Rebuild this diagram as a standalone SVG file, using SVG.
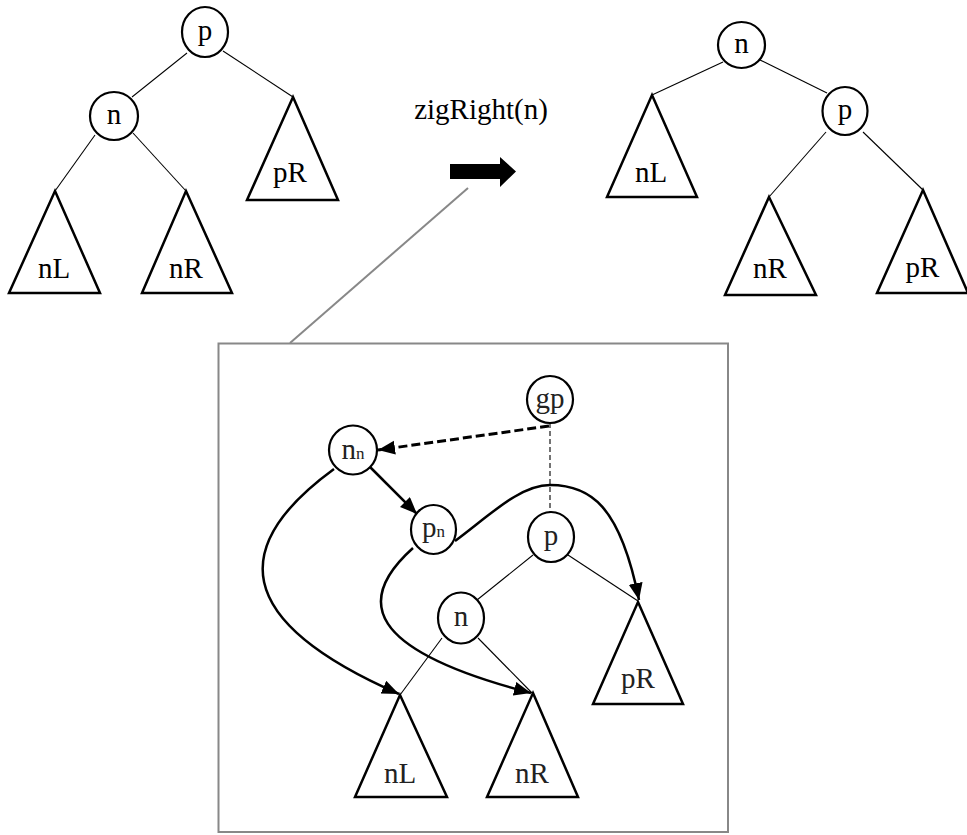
<svg xmlns="http://www.w3.org/2000/svg" width="967" height="835" viewBox="0 0 967 835">
<defs>
<style>
.nd{fill:#fff;stroke:#000;stroke-width:2.2}
.tr{fill:#fff;stroke:#000;stroke-width:2.5;stroke-linejoin:miter}
.ed{stroke:#000;stroke-width:1.1;fill:none}
.t{font-family:"Liberation Serif","Times New Roman","DejaVu Serif",serif;font-size:29px;fill:#000;text-anchor:middle}
.ti{font-family:"Liberation Serif","Times New Roman","DejaVu Serif",serif;font-size:29px;fill:#222;text-anchor:middle}
.sub{font-size:17px}
.cv{fill:none;stroke:#000;stroke-width:2.5}
</style>
<marker id="ah" markerUnits="userSpaceOnUse" markerWidth="19" markerHeight="16" refX="17" refY="7" orient="auto">
<path d="M0,0 L17,7 L0,14 z" fill="#000"/>
</marker>
</defs>
<rect width="967" height="835" fill="#fff"/>

<!-- connectors -->
<g id="connectors">
<!-- top-left tree edges -->
<line class="ed" x1="187" y1="53" x2="132" y2="97"/>
<line class="ed" x1="223" y1="51" x2="293" y2="97"/>
<line class="ed" x1="95" y1="135" x2="55" y2="191"/>
<line class="ed" x1="133" y1="133" x2="186" y2="191"/>
<!-- top-right tree edges -->
<line class="ed" x1="723" y1="62" x2="652" y2="95"/>
<line class="ed" x1="760" y1="60" x2="827" y2="93"/>
<line class="ed" x1="826" y1="132" x2="769" y2="197"/>
<line class="ed" x1="863" y1="132" x2="923" y2="190"/>
<!-- zoom pointer line -->
<line x1="468" y1="188" x2="290" y2="343" stroke="#888" stroke-width="2"/>
<!-- inset tree edges -->
<line class="ed" x1="533" y1="555" x2="477" y2="600"/>
<line class="ed" x1="568" y1="555" x2="638" y2="601"/>
<line class="ed" x1="442" y1="638" x2="400" y2="695"/>
<line class="ed" x1="478" y1="638" x2="532" y2="693"/>
<line x1="550" y1="423" x2="550" y2="513" stroke="#000" stroke-width="1.1" stroke-dasharray="5,3"/>
<!-- inset arrows -->
<line x1="549" y1="426" x2="378" y2="450" stroke="#000" stroke-width="3" stroke-dasharray="9,4" marker-end="url(#ah)"/>
<line class="cv" x1="370" y1="467" x2="417" y2="514" marker-end="url(#ah)"/>
<path class="cv" d="M334,469 C230,545 230,620 399,694" marker-end="url(#ah)"/>
<path class="cv" d="M413,548 C355,600 365,650 531,693" marker-end="url(#ah)"/>
<path class="cv" d="M455,541 C490,515 520,485 550,485 C590,485 620,505 639,600" marker-end="url(#ah)"/>
</g>

<!-- top-left tree -->
<g id="tl-p"><ellipse class="nd" cx="205" cy="32" rx="23" ry="25"/><text class="t" x="205" y="40">p</text></g>
<g id="tl-n"><ellipse class="nd" cx="114" cy="116" rx="24" ry="24"/><text class="t" x="114" y="124">n</text></g>
<g id="tl-pR"><polygon class="tr" points="293,97 338,200 247,200"/><text class="t" x="290" y="182">pR</text></g>
<g id="tl-nL"><polygon class="tr" points="55,191 100,293 9,293"/><text class="t" x="54" y="278">nL</text></g>
<g id="tl-nR"><polygon class="tr" points="186,191 232,293 142,293"/><text class="t" x="186" y="278">nR</text></g>

<!-- operation -->
<g id="op">
<text class="t" x="481" y="119">zigRight(n)</text>
<polygon points="450,164 500,164 500,157 516,171.5 500,187 500,179 450,179" fill="#000"/>
</g>

<!-- top-right tree -->
<g id="tr-n"><ellipse class="nd" cx="741.5" cy="45" rx="23.5" ry="23"/><text class="t" x="741.5" y="53">n</text></g>
<g id="tr-p"><ellipse class="nd" cx="845" cy="111" rx="22.5" ry="24"/><text class="t" x="845" y="119">p</text></g>
<g id="tr-nL"><polygon class="tr" points="652,95 697,197 607,197"/><text class="t" x="651" y="182">nL</text></g>
<g id="tr-nR"><polygon class="tr" points="769,197 816,295 725,295"/><text class="t" x="770" y="278">nR</text></g>
<g id="tr-pR"><polygon class="tr" points="923,190 968,293 877,293"/><text class="t" x="922.5" y="277">pR</text></g>

<!-- inset box -->
<g id="inset">
<rect x="218.5" y="343.5" width="509.5" height="488.5" fill="none" stroke="#888" stroke-width="2"/>
</g>
<g id="in-gp"><ellipse class="nd" cx="550" cy="399.5" rx="23" ry="23.5"/><text class="ti" x="550" y="408">gp</text></g>
<g id="in-nn"><ellipse class="nd" cx="353" cy="450" rx="24" ry="24.5"/><text class="ti" x="353" y="459">n<tspan class="sub">n</tspan></text></g>
<g id="in-pn"><ellipse class="nd" cx="433.5" cy="529.5" rx="22.5" ry="24.5"/><text class="ti" x="433.5" y="537">p<tspan class="sub">n</tspan></text></g>
<g id="in-p"><ellipse class="nd" cx="551" cy="537" rx="23" ry="25"/><text class="ti" x="551" y="545">p</text></g>
<g id="in-n"><ellipse class="nd" cx="461" cy="618" rx="23" ry="25.5"/><text class="ti" x="461" y="626">n</text></g>
<g id="in-nL"><polygon class="tr" points="400,695 447,797 355,797"/><text class="ti" x="400" y="783">nL</text></g>
<g id="in-nR"><polygon class="tr" points="533,693 578,797 487,797"/><text class="ti" x="532" y="783">nR</text></g>
<g id="in-pR"><polygon class="tr" points="638,602 683,704 593,704"/><text class="ti" x="638" y="688">pR</text></g>
</svg>
